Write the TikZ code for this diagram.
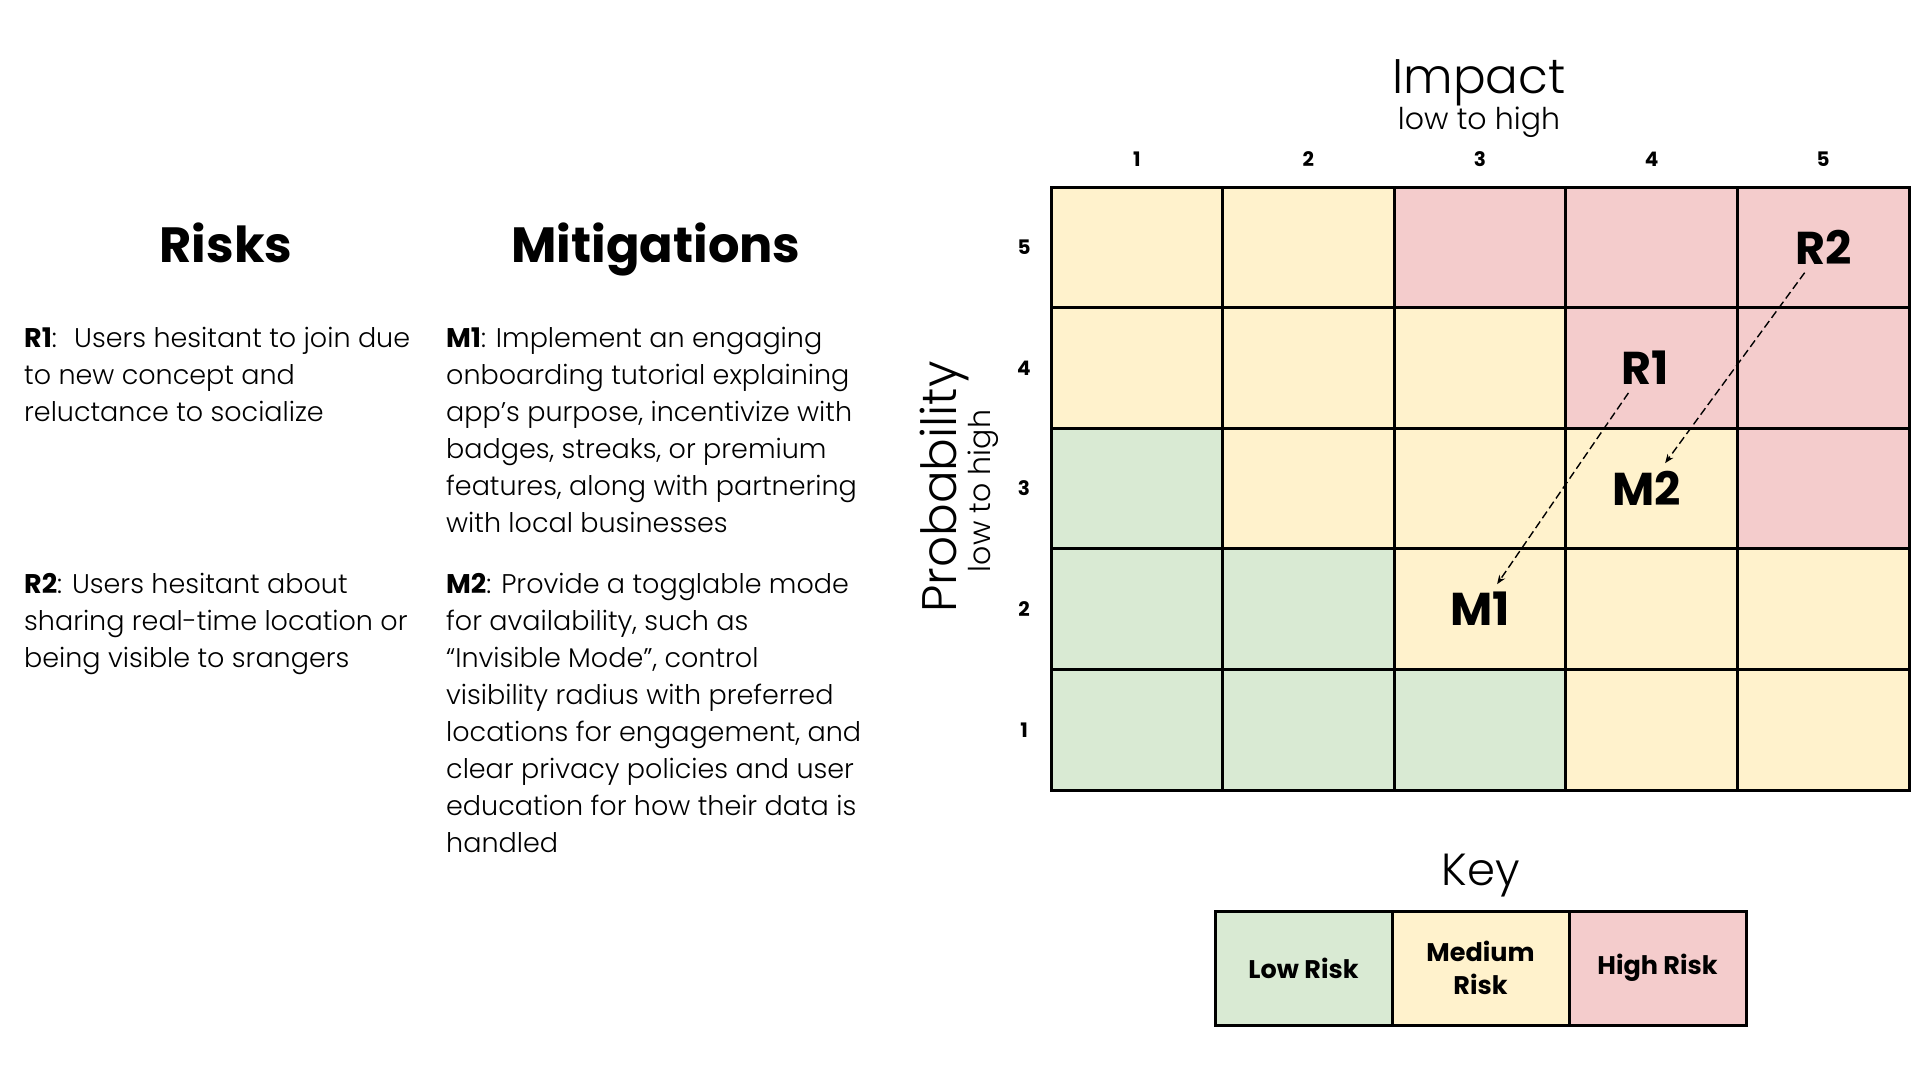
\documentclass[tikz,border=0pt]{standalone}
\usepackage{fontspec}
\IfFontExistsTF{Poppins Light}
  {\setmainfont{Poppins}[UprightFont={* Light},BoldFont={* Bold}]}
  {\setmainfont{Poppins}}
\usetikzlibrary{positioning,arrows.meta}
\definecolor{riskLow}{HTML}{D9EAD3}
\definecolor{riskMid}{HTML}{FFF2CC}
\definecolor{riskHigh}{HTML}{F4CCCC}
\tikzset{
  cell/.style={rectangle,draw=black,line width=3pt,minimum width=171.6pt,minimum height=120.6pt,
    inner sep=0pt,outer sep=0pt},
  keycell/.style={rectangle,draw=black,line width=3pt,minimum width=177pt,minimum height=114pt,
    inner sep=0pt,outer sep=0pt,align=center,font=\fontsize{25.5}{33}\selectfont\bfseries},
  axnum/.style={font=\fontsize{20}{24}\selectfont\bfseries},
  axtitle/.style={font=\fontsize{48.5}{52}\selectfont,anchor=base},
  axsub/.style={font=\fontsize{30}{33}\selectfont,anchor=base},
  tag/.style={font=\fontsize{46}{52}\selectfont\bfseries,inner sep=8pt},
  colhead/.style={font=\fontsize{49.5}{56}\selectfont\bfseries,anchor=base},
  note/.style={anchor=base west,align=left,inner sep=0pt,font=\fontsize{27}{37.1}\selectfont},
  link/.style={-{Stealth[length=9pt,width=7pt]},line width=1.4pt,dash pattern=on 8pt off 4pt},
}

\begin{document}
\begin{tikzpicture}[x=1pt,y=-1pt]
  \useasboundingbox (0,0) rectangle (1920,1080);
  % left columns (anchored at the baseline of the last line)
  \node[colhead] (risks) at (226,262) {Risks};
  \node[colhead] (mitig) at (656,262) {Mitigations};
  \node[note] (r1txt) at (24,421.5) {\textbf{R1}:~ Users hesitant to join due\\to new concept and\\reluctance to socialize};
  \node[note] (m1txt) at (446,532.5) {\textbf{M1}: Implement an engaging\\onboarding tutorial explaining\\app’s purpose, incentivize with\\badges, streaks, or premium\\features, along with partnering\\with local businesses};
  \node[note] (r2txt) at (24,667.5) {\textbf{R2}: Users hesitant about\\sharing real-time location or\\being visible to srangers};
  \node[note] (m2txt) at (446,852.7) {\textbf{M2}: Provide a togglable mode\\for availability, such as\\“Invisible Mode”, control\\visibility radius with preferred\\locations for engagement, and\\clear privacy policies and user\\education for how their data is\\handled};
  % matrix cells
  \foreach \row/\fills in {5/{riskMid,riskMid,riskHigh,riskHigh,riskHigh},
      4/{riskMid,riskMid,riskMid,riskHigh,riskHigh},
      3/{riskLow,riskMid,riskMid,riskMid,riskHigh},
      2/{riskLow,riskLow,riskMid,riskMid,riskMid},
      1/{riskLow,riskLow,riskLow,riskMid,riskMid}}
    \foreach \f [count=\col] in \fills
      \node[cell,fill=\f] (c\row\col) at ({1051+(\col-0.5)*171.6},{790-(\row-0.5)*120.6}) {};
  % axis numbers
  \foreach \n in {1,...,5} {
    \node[axnum] (imp\n) at ({1051+(\n-0.5)*171.6},159) {\n};
    \node[axnum] (prb\n) at (1024,{790-(\n-0.5)*120.6}) {\n};
  }
  % axis titles
  \node[axtitle] (impact) at (1479,93) {Impact};
  \node[axsub] (impsub) at (1479,129) {low to high};
  \node[axtitle,rotate=90] (prob) at (956,487) {Probability};
  \node[axsub,rotate=90] (probsub) at (990,491) {low to high};
  % risks and mitigations
  \node[tag] (r2) at (c55) {R2};
  \node[tag] (r1) at ([xshift=-6pt]c44) {R1};
  \node[tag] (m2) at ([xshift=-5pt]c34) {M2};
  \node[tag] (m1) at (c23) {M1};
  \draw[link] (r1) -- (m1);
  \draw[link] (r2) -- (m2);
  % key
  \node[keycell,fill=riskLow] (keylow) at (1303.5,968) {Low Risk};
  \node[keycell,fill=riskMid,right=0pt of keylow] (keymid) {Medium\\Risk};
  \node[keycell,fill=riskHigh,right=0pt of keymid] (keyhigh) {High Risk};
  \node[font=\fontsize{45}{48}\selectfont,anchor=base] (keytitle) at ([yshift=26pt]keymid.north) {Key};
\end{tikzpicture}
\end{document}
